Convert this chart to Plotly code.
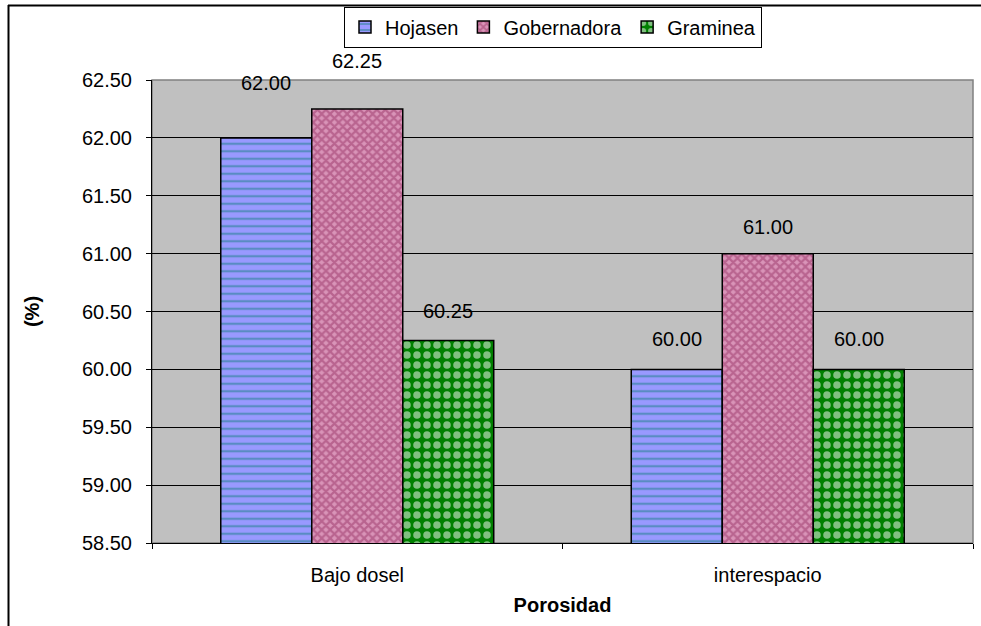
import plotly.graph_objects as go

categories = ["Bajo dosel", "interespacio"]
series_names = ["Hojasen", "Gobernadora", "Graminea"]
hojasen = [62.00, 60.00]
gobernadora = [62.25, 61.00]
graminea = [60.25, 60.00]
y_ticks = [58.5, 59.0, 59.5, 60.0, 60.5, 61.0, 61.5, 62.0, 62.5]

FONT = "Liberation Sans, Arial, sans-serif"
FS = 20

styles = [
    dict(color="#9999FF", pattern=dict(shape="-", fgcolor="#1A7F86", size=7.5, solidity=0.3, fillmode="overlay")),
    dict(color="#D994B8", pattern=dict(shape="x", fgcolor="#993366", size=6, solidity=0.6, fillmode="overlay")),
    dict(color="#008000", pattern=dict(shape=".", fgcolor="#FFFFFF", size=10, solidity=0.45, fillmode="overlay")),
]

fig = go.Figure()
for name, vals, st in zip(series_names, [hojasen, gobernadora, graminea], styles):
    fig.add_trace(go.Bar(
        name=name, x=categories, y=vals,
        marker=dict(color=st["color"], pattern=st["pattern"], line=dict(color="#000000", width=1.5)),
    ))

# data labels
bar_px = 91
yshifts = [[55, 30], [48, 27], [29, 30]]
for i, vals in enumerate([hojasen, gobernadora, graminea]):
    for j, v in enumerate(vals):
        fig.add_annotation(
            x=categories[j], y=v, xref="x", yref="y",
            text=f"{v:.2f}", showarrow=False,
            xshift=(i - 1) * bar_px, yshift=yshifts[i][j], yanchor="middle",
            font=dict(family=FONT, size=FS, color="#000000"),
        )

W, H = 981, 626
L, R, T, B = 152, 8, 80, 83
pw, ph = W - L - R, H - T - B

def px(x):
    return (x - L) / pw

def py(y):
    return (H - B - y) / ph

# chart border (top and left visible)
fig.add_shape(type="line", xref="paper", yref="paper", x0=px(8), x1=px(W + 5), y0=py(5.5), y1=py(5.5),
              line=dict(color="#000000", width=2))
fig.add_shape(type="line", xref="paper", yref="paper", x0=px(8.5), x1=px(8.5), y0=py(5), y1=py(H + 5),
              line=dict(color="#000000", width=2))
# plot area border
fig.add_shape(type="rect", xref="paper", yref="paper", x0=0, x1=1, y0=0, y1=1,
              line=dict(color="#808080", width=1.5), layer="below")

fig.update_layout(
    width=W, height=H,
    margin=dict(l=L, r=R, t=T, b=B, autoexpand=False),
    paper_bgcolor="#FFFFFF",
    plot_bgcolor="#C0C0C0",
    barmode="group", bargap=0.335, bargroupgap=0,
    font=dict(family=FONT, size=FS, color="#000000"),
    showlegend=True,
    legend=dict(
        orientation="h", x=px(553), xanchor="center", y=py(27), yanchor="middle",
        bgcolor="#FFFFFF", bordercolor="#000000", borderwidth=1,
        font=dict(family=FONT, size=FS), itemwidth=30,
    ),
    xaxis=dict(
        automargin=False,
        showline=True, linecolor="#000000", linewidth=1,
        ticks="outside", ticklen=5, tickcolor="#000000", tickson="boundaries",
        showgrid=False, tickfont=dict(family=FONT, size=FS),
        ticklabelstandoff=14,
        title=dict(text="<b>Porosidad</b>", font=dict(family=FONT, size=FS), standoff=12),
    ),
    yaxis=dict(
        automargin=False,
        range=[58.5, 62.5], tickvals=y_ticks, tickformat=".2f",
        showline=True, linecolor="#000000", linewidth=1,
        ticks="outside", ticklen=5, tickcolor="#000000",
        showgrid=True, gridcolor="#000000", gridwidth=1,
        zeroline=False, tickfont=dict(family=FONT, size=FS),
        ticklabelstandoff=10,
        title=dict(text="<b>(%)</b>", font=dict(family=FONT, size=FS), standoff=36),
    ),
)

fig.write_html("out.html", config={"displayModeBar": False},
               post_script="document.body.style.margin='0';document.body.style.overflow='hidden';")
